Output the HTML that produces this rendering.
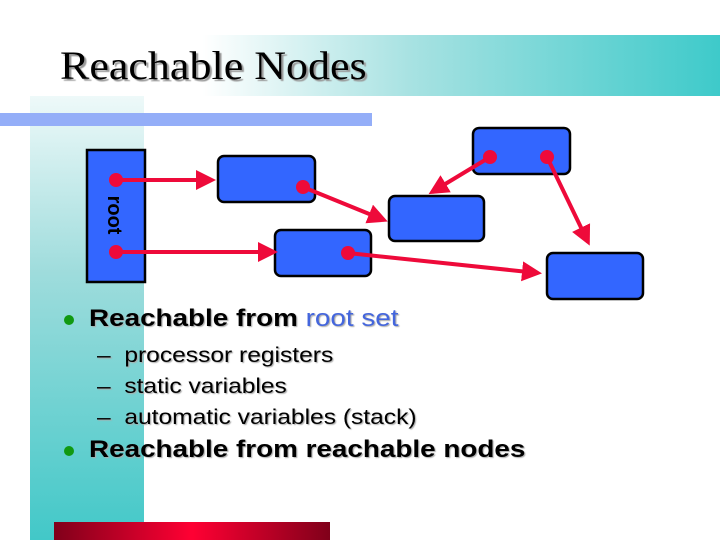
<!DOCTYPE html>
<html><head><style>
body{margin:0;width:720px;height:540px;position:relative;overflow:hidden;background:#fff;font-family:"Liberation Sans",sans-serif}
.a{position:absolute;transform-origin:0 0;white-space:nowrap}
</style></head><body>
<div class="a" style="left:30px;top:35px;width:690px;height:61px;background:linear-gradient(90deg,#fff 0%,#fff 25%,#a8e2e2 55%,#3ecaca 100%)"></div>
<div class="a" style="left:30px;top:96px;width:114px;height:444px;background:linear-gradient(180deg,#eef9f9 0%,#9edcdc 40%,#42c8c8 100%)"></div>
<div class="a" style="left:0;top:113px;width:372px;height:13px;background:#94aef8"></div>
<div class="a" style="left:60px;top:42px;font-family:'Liberation Serif',serif;font-size:40px;color:#000;text-shadow:2px 2px 1px #999;transform:scaleX(1.1)">Reachable Nodes</div>
<div class="a" style="left:54px;top:522px;width:276px;height:18px;background:linear-gradient(90deg,#80001a,#ff0033 50%,#80001a)"></div>
<svg class="a" style="left:0;top:0" width="720" height="540">
<defs><marker id="m" markerWidth="5" markerHeight="5" refX="4" refY="2.5" orient="auto" markerUnits="strokeWidth"><path d="M0,0L5,2.5L0,5z" fill="#ee0a3a"/></marker></defs>
<g fill="#3366ff" stroke="#000" stroke-width="2.5">
<rect x="87" y="150" width="58" height="132"/>
<rect x="218" y="156" width="97" height="46" rx="6"/>
<rect x="389" y="196" width="95" height="45" rx="6"/>
<rect x="275" y="230" width="96" height="46" rx="6"/>
<rect x="473" y="128" width="97" height="46" rx="6"/>
<rect x="547" y="253" width="96" height="46" rx="6"/>
</g>
<text x="0" y="0" transform="translate(108,215) rotate(90)" text-anchor="middle" font-size="20" font-weight="bold" fill="#000">root</text>
<g stroke="#ee0a3a" stroke-width="4" marker-end="url(#m)">
<line x1="116" y1="180" x2="212" y2="180"/>
<line x1="303" y1="187" x2="384" y2="220"/>
<line x1="490" y1="157" x2="432" y2="192"/>
<line x1="547" y1="157" x2="588" y2="242"/>
<line x1="116" y1="252" x2="274" y2="252"/>
<line x1="348" y1="253" x2="538" y2="273"/>
</g>
<g fill="#ee0a3a"><circle cx="116" cy="180" r="7"/><circle cx="116" cy="252" r="7"/><circle cx="303" cy="187" r="7"/><circle cx="490" cy="157" r="7"/><circle cx="547" cy="157" r="7"/><circle cx="348" cy="253" r="7"/></g>
<g fill="#119911"><circle cx="69" cy="320" r="5"/><circle cx="69" cy="451" r="5"/></g>
</svg>
<div class="a" style="left:89px;top:305px;font-size:24px;font-weight:bold;text-shadow:1px 1px 1px #aaa;transform:scaleX(1.16)">Reachable from <span style="font-weight:normal;color:#4466dd">root set</span></div>
<div class="a" style="left:97px;top:340px;font-size:21px;line-height:31px;text-shadow:1px 1px 1px #aaa;transform:scaleX(1.17)">
<div>– &nbsp;processor registers</div><div>– &nbsp;static variables</div><div>– &nbsp;automatic variables (stack)</div></div>
<div class="a" style="left:89px;top:436px;font-size:24px;font-weight:bold;text-shadow:1px 1px 1px #aaa;transform:scaleX(1.16)">Reachable from reachable nodes</div>
</body></html>
